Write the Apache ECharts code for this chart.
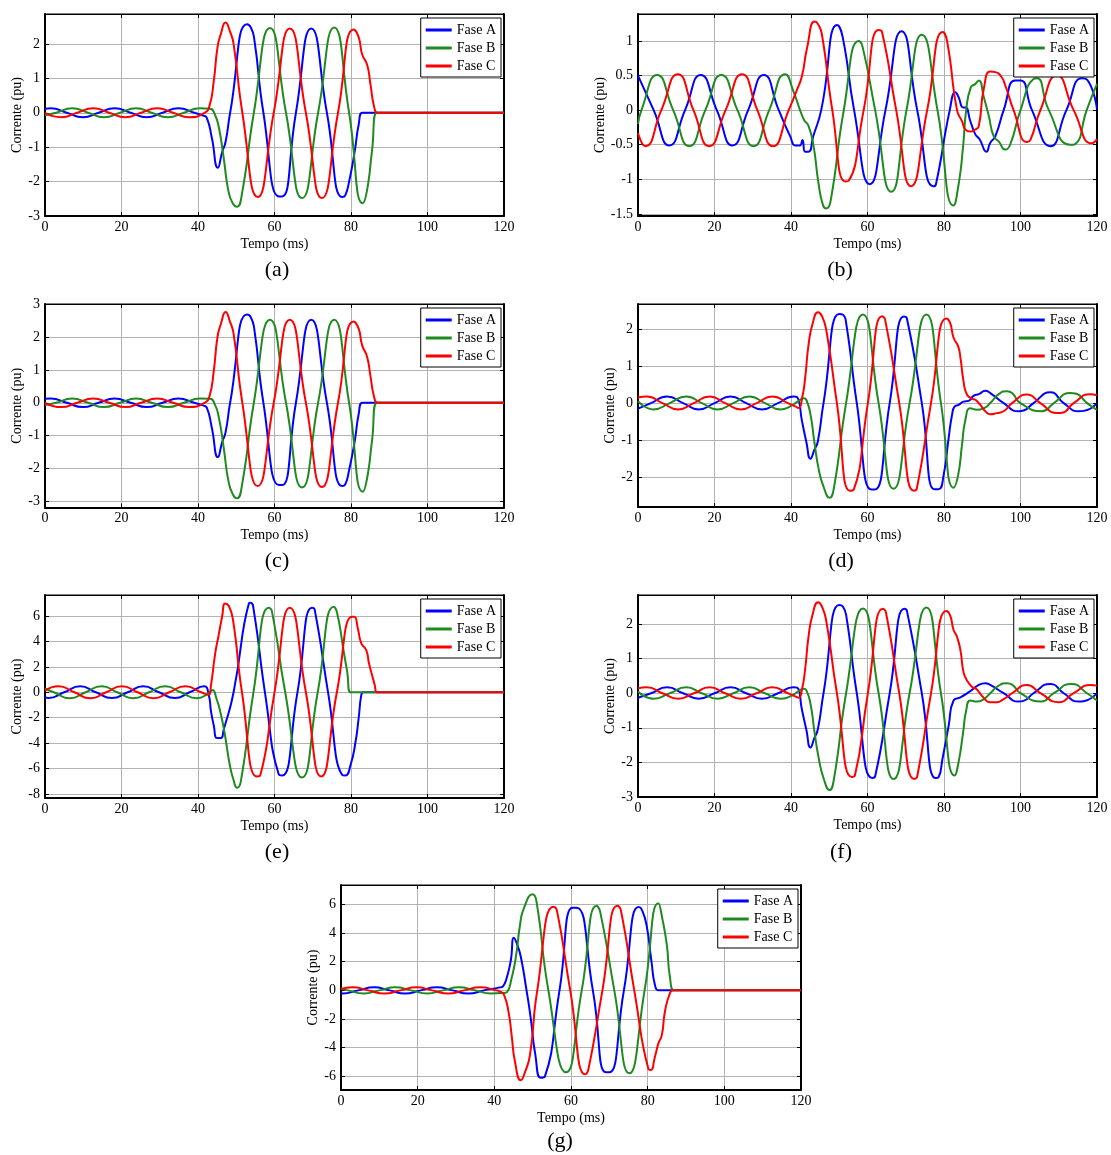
<!DOCTYPE html>
<html>
<head>
<meta charset="utf-8">
<script src="https://cdn.jsdelivr.net/npm/echarts/dist/echarts.min.js"></script>
<style>
  html, body { margin: 0; padding: 0; background: #fff; }
  #chart { width: 1111px; height: 1155px; }
</style>
</head>
<body>
<div id="chart"></div>
<script>
// current curves: [tempo (ms), corrente (pu)]
const aA = [[0,0.12],[1.5,0.13],[5.7,0],[9.9,-0.13],[14,0],[18.2,0.13],[22.4,0],[26.6,-0.13],[30.7,0],[34.9,0.13],[39,0],[41.3,-0.08],[42.3,-0.15],[43.6,-0.72],[45.2,-1.6],[46.3,-1.15],[47.2,-0.85],[48.4,0],[52.8,2.57],[53.8,2.48],[54.7,2.15],[57.1,0],[61.2,-2.43],[62,-2.43],[65.6,0],[69.6,2.45],[73.7,0],[77.7,-2.45],[78.5,-2.4],[79.5,-2.0],[81,-1.1],[82,-0.35],[83,0],[84.5,0],[120,0]];
const aB = [[0,-0.07],[2.9,0],[7.1,0.13],[11.3,0],[15.4,-0.13],[19.6,0],[23.8,0.13],[27.9,0],[32.1,-0.13],[36.3,0],[40.5,0.13],[43.2,0.12],[44.4,-0.05],[45.4,-0.4],[46.7,-1.3],[48,-2.3],[49.2,-2.65],[50.2,-2.73],[51.5,-2.35],[54.6,0],[58.8,2.46],[63,0],[67.2,-2.48],[71.4,0],[75.6,2.48],[79.5,0],[83.1,-2.63],[84.2,-2.25],[85.5,-1.1],[86.8,0],[88.3,0],[120,0]];
const aC = [[0,0],[4.3,-0.13],[8.4,0],[12.6,0.13],[16.8,0],[21,-0.13],[25.1,0],[29.3,0.13],[33.5,0],[37.7,-0.13],[41.7,0],[43,0.2],[44.1,0.9],[45.1,1.9],[46,2.3],[47.2,2.62],[48.4,2.35],[49.3,2.0],[51.6,0],[55.6,-2.45],[59.8,0],[64,2.45],[68.2,0],[72.4,-2.48],[76.6,0],[80.7,2.42],[82,2.2],[82.9,1.7],[84.2,1.4],[85.1,0.82],[86,0.2],[86.9,0],[88.3,0],[120,0]];

const bA = [[0,0.5],[4.1,0],[8.2,-0.51],[12.3,0],[16.4,0.51],[20.6,0],[24.7,-0.51],[28.8,0],[32.9,0.51],[36.8,0],[39.8,-0.38],[41.1,-0.51],[42.3,-0.51],[43,-0.43],[43.7,-0.6],[44.6,-0.6],[45.8,-0.38],[47.9,0],[52.1,1.23],[53.5,1.06],[56.5,0],[60.6,-1.07],[64.7,0],[68.9,1.14],[73,0],[77.2,-1.1],[77.9,-1.07],[81.5,0],[83,0.26],[83.8,0.19],[85,0.04],[85.6,0.04],[86.9,-0.16],[88.2,-0.35],[89.3,-0.42],[91.1,-0.6],[92.1,-0.47],[93.4,-0.38],[95.6,0],[98.6,0.43],[100,0.43],[103,0],[107.8,-0.52],[112,0],[116.1,0.46],[117.4,0.44],[120,0.02]];
const bB = [[0,-0.2],[0.9,0],[5,0.51],[9.2,0],[13.4,-0.52],[17.6,0],[21.8,0.51],[26,0],[30.2,-0.52],[34.3,0],[38.5,0.52],[40.7,0.26],[43.3,-0.13],[44.6,-0.23],[45.9,-0.52],[47.2,-1.06],[48.4,-1.38],[49.2,-1.42],[50.3,-1.33],[53.8,0],[57.7,1.0],[58.6,0.94],[62,0],[66.2,-1.18],[70.2,0],[74.2,1.09],[78.3,0],[82.5,-1.38],[83.8,-1.08],[85,-0.52],[85.8,0],[87,0.33],[88.2,0.38],[89.1,0.43],[90.4,0.19],[91.7,-0.08],[93,-0.38],[94.3,-0.45],[96,-0.57],[97.3,-0.5],[100,0],[103.4,0.45],[104.3,0.46],[107.4,0],[113,-0.5],[114.3,-0.49],[117.3,0],[120,0.38]];
const bC = [[0,-0.33],[1.9,-0.52],[6.1,0],[10.4,0.52],[14.5,0],[18.6,-0.52],[22.9,0],[27.2,0.52],[31.2,0],[35.3,-0.52],[39.4,0],[41.6,0.3],[42.9,0.5],[44.2,0.9],[46.2,1.28],[47.1,1.24],[48.1,1.09],[50.8,0],[54.2,-1.03],[55.1,-1.02],[59,0],[62.9,1.16],[63.8,1.13],[67.5,0],[71.4,-1.1],[75.6,0],[79.7,1.13],[80.8,1.0],[83.4,0],[84.7,-0.16],[85.6,-0.28],[86.9,-0.31],[88.2,-0.28],[89.1,-0.23],[90.4,0.31],[92.1,0.56],[93.4,0.55],[94.9,0.49],[96,0.36],[98.2,0],[101.7,-0.46],[102.6,-0.43],[105.2,0],[109.5,0.5],[113.9,0],[118.7,-0.48],[120,-0.42]];

const cA = [[0,0.12],[1.5,0.13],[5.7,0],[9.9,-0.13],[14,0],[18.2,0.13],[22.4,0],[26.6,-0.13],[30.7,0],[34.9,0.13],[39,0],[41.3,-0.08],[42.3,-0.15],[43.6,-0.75],[45.2,-1.65],[46.3,-1.2],[47.2,-0.9],[48.4,0],[52.8,2.68],[53.8,2.6],[54.7,2.25],[57.1,0],[61.2,-2.5],[62,-2.5],[65.6,0],[69.6,2.52],[73.7,0],[77.7,-2.53],[78.5,-2.48],[79.5,-2.05],[81,-1.15],[82,-0.35],[83,0],[84.5,0],[120,0]];
const cB = [[0,-0.07],[2.9,0],[7.1,0.13],[11.3,0],[15.4,-0.13],[19.6,0],[23.8,0.13],[27.9,0],[32.1,-0.13],[36.3,0],[40.5,0.13],[43.2,0.12],[44.4,-0.05],[45.4,-0.42],[46.7,-1.35],[48,-2.4],[49.2,-2.8],[50.2,-2.9],[51.5,-2.5],[54.6,0],[58.8,2.52],[63,0],[67.2,-2.57],[71.4,0],[75.6,2.52],[79.5,0],[83.1,-2.7],[84.2,-2.3],[85.5,-1.15],[86.8,0],[88.3,0],[120,0]];
const cC = [[0,0],[4.3,-0.13],[8.4,0],[12.6,0.13],[16.8,0],[21,-0.13],[25.1,0],[29.3,0.13],[33.5,0],[37.7,-0.13],[41.7,0],[43,0.2],[44.1,0.95],[45.1,2.0],[46,2.4],[47.2,2.76],[48.4,2.45],[49.3,2.1],[51.6,0],[55.6,-2.53],[59.8,0],[64,2.52],[68.2,0],[72.4,-2.56],[76.6,0],[80.7,2.47],[82,2.25],[82.9,1.75],[84.2,1.4],[85.1,0.8],[86,0.2],[86.9,0],[88.3,0],[120,0]];

const dA = [[0,-0.15],[3.4,0],[7.6,0.18],[11.8,0],[15.9,-0.17],[20,0],[24.2,0.18],[28.3,0],[32.4,-0.17],[36.6,0],[40.7,0.18],[41.6,0.16],[42.9,-0.5],[44,-1.04],[45.1,-1.5],[46.1,-1.26],[47,-1.04],[48.5,0],[52.6,2.4],[53.6,2.38],[54.5,2.1],[57.2,0],[61,-2.33],[61.9,-2.33],[65.8,0],[69.5,2.33],[70.3,2.28],[74.2,0],[77.5,-2.32],[78.6,-2.32],[79.9,-1.94],[81.2,-0.95],[82.1,-0.32],[82.8,-0.09],[83.8,-0.05],[85.1,0.04],[86.4,0.06],[87.8,0.2],[89.1,0.24],[90.8,0.33],[92.1,0.27],[95.6,0],[99.5,-0.22],[100.8,-0.2],[103.4,0],[107.8,0.29],[111.3,0],[115.2,-0.22],[116.5,-0.21],[120,0]];
const dB = [[0,0.05],[4.1,-0.17],[8.3,0],[12.6,0.18],[16.7,0],[20.8,-0.17],[24.9,0],[29.1,0.18],[33.2,0],[37.2,-0.17],[39.8,-0.09],[42,0.06],[43.3,0.13],[44,0.09],[45.1,-0.31],[46.1,-1.04],[47.2,-1.76],[48.5,-2.25],[50.1,-2.55],[51.2,-2.3],[54.4,0],[58.8,2.39],[62.9,0],[66.8,-2.31],[71,0],[75.4,2.39],[79.2,0],[82.5,-2.28],[83.7,-1.94],[84.7,-1.13],[85.6,-0.45],[86.9,-0.14],[88.6,-0.18],[90.4,-0.14],[92.1,0],[94.3,0.24],[96.5,0.32],[97.8,0.27],[100,0],[105.6,-0.22],[108.7,0],[113,0.27],[114.3,0.26],[117.4,0],[120,-0.18]];
const dC = [[0,0.15],[2.3,0.18],[6.4,0],[10.5,-0.17],[14.6,0],[18.7,0.18],[22.8,0],[26.9,-0.17],[31,0],[35.1,0.18],[39.2,0],[41.1,-0.09],[42,-0.13],[42.9,0.13],[43.7,0.68],[44.6,1.58],[45.7,2.16],[47.1,2.45],[48.1,2.34],[49.2,1.98],[52,0],[55.4,-2.36],[56.4,-2.33],[60.1,0],[63.8,2.34],[64.6,2.25],[68.3,0],[72.1,-2.36],[72.9,-2.3],[76.6,0],[80.6,2.28],[81.6,2.16],[82.5,1.76],[83.7,1.53],[84.3,1.22],[85.1,0.59],[86,0.23],[87.3,0.12],[88.2,0.09],[89.5,-0.05],[90.8,-0.22],[92.1,-0.3],[93.8,-0.27],[95.6,-0.22],[97.8,0],[101.7,0.23],[105.2,0],[109.6,-0.27],[110.9,-0.26],[113.9,0],[118.3,0.24],[120,0.21]];

const eA = [[0,-0.4],[0.9,-0.44],[5,0],[9.2,0.47],[13.3,0],[17.5,-0.45],[21.6,0],[25.7,0.47],[29.8,0],[34,-0.45],[37.8,0],[41.6,0.47],[42.8,-0.2],[43.4,-1.5],[44.1,-2.57],[45,-3.6],[46,-3.6],[46.7,-2.96],[49.3,0],[53.3,6.99],[53.8,7.05],[54.7,6.2],[57.5,0],[61.1,-6.44],[62,-6.54],[66,0],[69.8,6.65],[70.5,6.5],[74,0],[77.7,-6.5],[78.5,-6.54],[79.9,-5.7],[81.2,-3.87],[82,-2.04],[82.7,-0.2],[83.2,0],[84.5,0],[120,0]];
const eB = [[0,0.3],[2.3,0],[6.5,-0.47],[10.6,0],[14.8,0.48],[18.9,0],[23.1,-0.47],[27.2,0],[31.4,0.48],[35.5,0],[39.7,-0.47],[42.8,-0.08],[43.8,0.18],[44.8,-0.47],[45.8,-1.5],[46.9,-3.1],[48.3,-5.7],[49.3,-6.9],[50.2,-7.5],[51.2,-7.0],[54.5,0],[58.5,6.65],[59.3,6.4],[62.8,0],[67.2,-6.7],[71.3,0],[75.5,6.73],[76.4,6.2],[78.1,3.19],[79,1.62],[79.9,0],[81.3,0],[120,0]];
const eC = [[0,0.12],[3.5,0.48],[7.7,0],[11.9,-0.47],[16,0],[20.1,0.48],[24.2,0],[28.4,-0.47],[32.5,0],[36.7,0.48],[40.8,0],[42.8,-0.2],[43.4,0.57],[44.5,3.06],[45.4,4.5],[46.3,5.94],[47.1,6.99],[48,6.8],[49.1,5.8],[51.5,0],[55.4,-6.62],[56.3,-6.5],[60,0],[64,6.65],[68.2,0],[72.2,-6.62],[76.3,0],[80.3,5.94],[80.9,5.94],[81.8,5.0],[82.7,3.85],[84,3.3],[84.7,2.28],[85.5,1.36],[86.2,0.58],[86.8,0],[88.2,0],[120,0]];

const fA = [[0,-0.13],[3.4,0],[7.6,0.17],[11.8,0],[15.9,-0.16],[20,0],[24.2,0.17],[28.3,0],[32.4,-0.16],[36.6,0],[40.7,0.17],[41.6,0.16],[42.9,-0.5],[44,-1.05],[45.1,-1.57],[46.1,-1.3],[47,-1.05],[48.5,0],[52.6,2.55],[53.6,2.5],[54.5,2.2],[57.2,0],[61.2,-2.45],[62,-2.4],[65.8,0],[69.6,2.44],[70.3,2.38],[74.2,0],[77.8,-2.45],[78.6,-2.42],[79.6,-1.9],[81.2,-0.95],[82.5,-0.21],[84.3,-0.12],[86.5,0.03],[89.1,0.24],[90.8,0.29],[92.1,0.24],[95.6,0],[99.5,-0.24],[100.8,-0.22],[103.4,0],[107.8,0.27],[111.3,0],[115.2,-0.24],[116.5,-0.23],[120,0]];
const fB = [[0,0.05],[4.1,-0.16],[8.3,0],[12.6,0.17],[16.7,0],[20.8,-0.16],[24.9,0],[29.1,0.17],[33.2,0],[37.2,-0.16],[39.8,-0.09],[42,0.06],[43.3,0.13],[44,0.09],[45.1,-0.31],[46.1,-1.08],[47.2,-1.85],[48.5,-2.45],[50.1,-2.8],[51.2,-2.5],[54.4,0],[58.8,2.45],[62.9,0],[66.8,-2.48],[71,0],[75.4,2.48],[79.2,0],[82.8,-2.38],[83.8,-2.0],[85,-1.13],[85.8,-0.5],[86.9,-0.21],[88.6,-0.24],[90.4,-0.17],[92.1,0],[94.3,0.22],[96.5,0.29],[97.8,0.25],[100,0],[105.4,-0.24],[108.7,0],[113.3,0.27],[117.4,0],[120,-0.21]];
const fC = [[0,0.14],[2.3,0.17],[6.4,0],[10.5,-0.16],[14.6,0],[18.7,0.17],[22.8,0],[26.9,-0.16],[31,0],[35.1,0.17],[39.2,0],[41.1,-0.09],[42,-0.13],[42.9,0.13],[43.7,0.7],[44.6,1.65],[45.7,2.3],[47.1,2.63],[48.1,2.5],[49.2,2.1],[52,0],[55.9,-2.42],[56.7,-2.38],[60.1,0],[64,2.44],[64.8,2.35],[68.3,0],[72.2,-2.48],[73,-2.4],[76.6,0],[80.6,2.38],[81.6,2.25],[82.5,1.83],[83.4,1.63],[84.3,1.24],[85.1,0.61],[86,0.37],[87.3,0.19],[88.6,0.11],[89.9,-0.07],[92.1,-0.26],[93.8,-0.26],[95.6,-0.17],[97.8,0],[101.7,0.24],[105.2,0],[110,-0.26],[113.9,0],[118.3,0.24],[120,0.22]];

const gA = [[0,-0.2],[0.4,-0.21],[4.5,0],[8.6,0.21],[12.7,0],[16.7,-0.22],[20.8,0],[25,0.21],[29.1,0],[33.2,-0.22],[37.3,0],[41.5,0.21],[42.3,0.3],[43.2,0.84],[44.3,2.1],[45.1,3.67],[46,3.16],[46.9,2.35],[48.4,0],[49.5,-1.95],[50.7,-4.5],[52.1,-6.1],[53.2,-6.0],[57,0],[60.4,5.77],[61.5,5.77],[65.7,0],[69.1,-5.72],[70,-5.72],[73.8,0],[77.6,5.81],[78.4,5.67],[79.7,4.56],[81,2.0],[81.9,0.37],[82.8,0],[84.2,0],[120,0]];
const gB = [[0,0.12],[1.8,0],[5.9,-0.21],[10,0],[14.2,0.21],[18.3,0],[22.5,-0.21],[26.6,0],[30.8,0.21],[35,0],[39.1,-0.21],[42.5,-0.18],[43.3,-0.12],[44.5,0.84],[45.7,2.47],[46.7,4.56],[47.7,5.72],[50,6.7],[51,6.19],[54.1,0],[58.7,-5.72],[62.8,0],[66.7,5.9],[67.6,5.49],[71.3,0],[75.2,-5.79],[79.2,0],[82.8,6.07],[83.9,4.9],[85,3.16],[85.8,0.95],[86.9,0],[88.3,0],[120,0]];
const gC = [[0,0.1],[3,0.21],[7.1,0],[11.3,-0.22],[15.5,0],[19.7,0.21],[23.8,0],[28,-0.22],[32.1,0],[36.3,0.21],[40.5,0],[41.5,-0.09],[42.5,-0.3],[43.7,-1.5],[44.5,-3.1],[45.4,-5],[46.9,-6.27],[48,-5.7],[49.3,-4.5],[51.2,0],[55.4,5.84],[56.3,5.6],[59.8,0],[63.7,-5.86],[64.5,-5.56],[68.2,0],[72.1,5.9],[73,5.6],[76.5,0],[80.2,-5.49],[80.8,-5.56],[81.9,-4.63],[82.8,-3.7],[83.7,-3.12],[84.5,-1.49],[85.8,-0.21],[86.7,0],[88,0],[120,0]];

const phaseNames = ['Fase A', 'Fase B', 'Fase C'];
const panelTags = ['(a)', '(b)', '(c)', '(d)', '(e)', '(f)', '(g)'];
const panelData = [[aA, aB, aC], [bA, bB, bC], [cA, cB, cC], [dA, dB, dC], [eA, eB, eC], [fA, fB, fC], [gA, gB, gC]];
// y extents of each panel, as drawn
const yMins = [-3, -1.53, -3.18, -2.8, -8.31, -3, -6.95];
const yMaxs = [2.87, 1.39, 3, 2.67, 7.65, 2.84, 7.35];
const ySplits = [5, 5, 5, 5, 8, 5, 7];
const xTickStep = 20;

// layout: plot box [left, top, right, bottom], y-name gap, caption position
const boxes = [[45,14,504,216],[638,14,1097,216],[45,304,504,507.5],[638,304,1097,507],[45,595,504,798],[638,595,1097,797],[341,885,801,1090]];
const yNameGaps = [17, 29, 17, 17, 17, 17, 17];
const capPos = [[277,270],[840,270],[277,561],[841,561],[277,852],[841,852],[560,1141]];

const colors = ['#0000ff', '#1f8a1f', '#ff0000'];
const FONT = 'Liberation Serif';
const txt = { fontFamily: FONT, fontSize: 14, color: '#000' };
const gridLine = { show: true, lineStyle: { color: '#b2b2b2', width: 1 } };
const tick = { show: true, inside: true, length: 4, lineStyle: { color: '#000', width: 1 } };

function tickLabel(v) {
  // only label the regular ticks, not the odd extent ends
  return Math.abs(v * 2 - Math.round(v * 2)) < 1e-6 ? String(v) : '';
}

const grids = [], xAxes = [], yAxes = [], series = [], legends = [], graphics = [];

boxes.forEach((b, i) => {
  const [l, t, r, bt] = b;
  grids.push({ left: l, top: t, width: r - l, height: bt - t, show: true, borderColor: '#000', borderWidth: 1, backgroundColor: '#fff' });

  xAxes.push({
    type: 'value', gridIndex: i, min: 0, max: 120, interval: xTickStep, position: 'bottom',
    name: 'Tempo (ms)', nameLocation: 'middle', nameGap: 21, nameTextStyle: txt,
    axisLine: { onZero: false, lineStyle: { color: '#000', width: 2 } },
    axisTick: tick, axisLabel: Object.assign({ margin: 4 }, txt), splitLine: gridLine
  });
  xAxes.push({
    type: 'value', gridIndex: i, min: 0, max: 120, interval: xTickStep, position: 'top',
    axisLine: { onZero: false, lineStyle: { color: '#000', width: 1 } },
    axisTick: tick, axisLabel: { show: false }, splitLine: { show: false }
  });

  yAxes.push({
    type: 'value', gridIndex: i, min: yMins[i], max: yMaxs[i], splitNumber: ySplits[i], position: 'left',
    name: 'Corrente (pu)', nameLocation: 'middle', nameGap: yNameGaps[i], nameTextStyle: txt,
    axisLine: { onZero: false, lineStyle: { color: '#000', width: 2 } },
    axisTick: tick, axisLabel: Object.assign({ margin: 5, formatter: tickLabel }, txt), splitLine: gridLine
  });
  yAxes.push({
    type: 'value', gridIndex: i, min: yMins[i], max: yMaxs[i], splitNumber: ySplits[i], position: 'right',
    axisLine: { onZero: false, lineStyle: { color: '#000', width: 2 } },
    axisTick: tick, axisLabel: { show: false }, splitLine: { show: false }
  });

  panelData[i].forEach((d, k) => {
    series.push({
      name: phaseNames[k], type: 'line', xAxisIndex: 2 * i, yAxisIndex: 2 * i,
      data: d, smooth: 0.55, symbol: 'none', color: colors[k],
      lineStyle: { width: 2, color: colors[k] }, animation: false
    });
  });

  legends.push({
    orient: 'vertical', right: 1114 - r, top: t + 4, data: phaseNames,
    icon: 'rect', itemWidth: 26, itemHeight: 3, itemGap: 4, padding: [5, 5, 4, 5],
    borderColor: '#000', borderWidth: 1, backgroundColor: '#fff',
    textStyle: Object.assign({ lineHeight: 14 }, txt), selectedMode: false
  });

  graphics.push({
    type: 'text', x: capPos[i][0], y: capPos[i][1],
    style: { text: panelTags[i], font: '22px "Liberation Serif"', fill: '#000', textAlign: 'center', textVerticalAlign: 'middle' }
  });
});

const chart = echarts.init(document.getElementById('chart'));
chart.setOption({
  backgroundColor: '#fff',
  animation: false,
  grid: grids,
  xAxis: xAxes,
  yAxis: yAxes,
  legend: legends,
  series: series,
  graphic: graphics
});
</script>
</body>
</html>
